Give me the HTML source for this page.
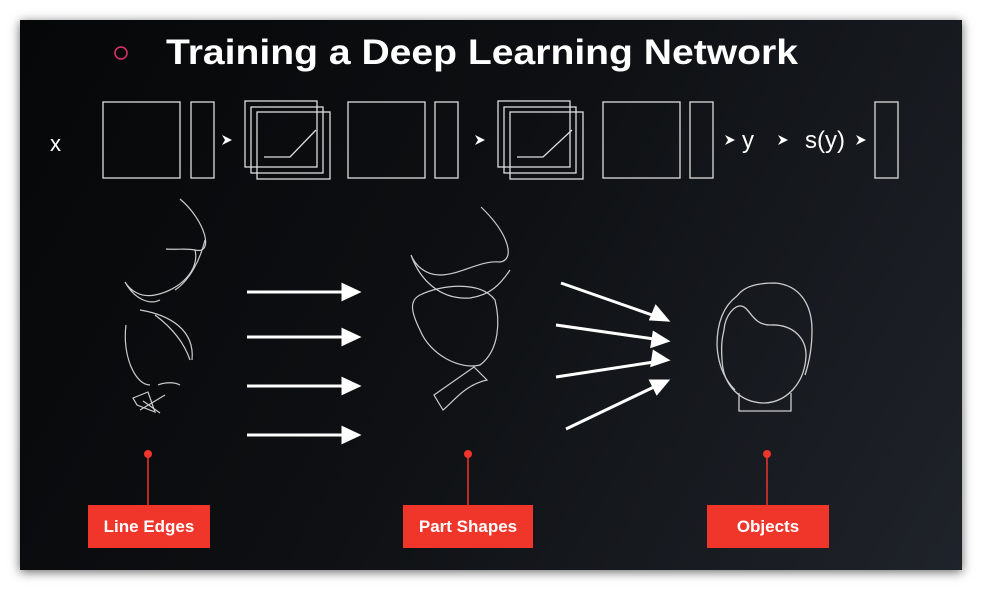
<!DOCTYPE html>
<html><head><style>
html,body{margin:0;padding:0;background:#fff;width:982px;height:590px;overflow:hidden}
#s{position:absolute;left:20px;top:20px;width:942px;height:550px;background:linear-gradient(120deg,#060708 0%,#0d0f12 45%,#1f232a 100%);box-shadow:0 2px 10px rgba(0,0,0,.6)}
svg{position:absolute;left:0;top:0}
text{font-family:"Liberation Sans",sans-serif;fill:#fff}
</style></head><body>
<div id="s"></div>
<svg width="982" height="590" viewBox="0 0 982 590">
<circle cx="121" cy="53" r="6" fill="none" stroke="#e0336a" stroke-width="1.5"/>
<text x="166" y="64" font-size="35" font-weight="bold" textLength="632" lengthAdjust="spacingAndGlyphs">Training a Deep Learning Network</text>
<g fill="none" stroke="#ddd" stroke-width="1.3">
<rect x="103" y="102" width="77" height="76"/><rect x="191" y="102" width="23" height="76"/>
<rect x="245" y="101" width="72" height="66"/><rect x="251" y="107" width="72" height="66"/><rect x="257" y="112" width="73" height="67"/>
<polyline points="264,157 290,157 316,130"/>
<rect x="348" y="102" width="77" height="76"/><rect x="435" y="102" width="23" height="76"/>
<rect x="498" y="101" width="72" height="66"/><rect x="504" y="107" width="72" height="66"/><rect x="510" y="112" width="73" height="67"/>
<polyline points="517,157 543,157 572,130"/>
<rect x="603" y="102" width="77" height="76"/><rect x="690" y="102" width="23" height="76"/>
<rect x="875" y="102" width="23" height="76"/>
</g>
<g fill="#fff">
<path d="M222,135 l10,5 l-10,5 l3,-5z"/><path d="M475,135 l10,5 l-10,5 l3,-5z"/>
<path d="M725,135 l10,5 l-10,5 l3,-5z"/><path d="M778,135 l10,5 l-10,5 l3,-5z"/><path d="M856,135 l10,5 l-10,5 l3,-5z"/>
</g>
<text x="50" y="151" font-size="22">x</text>
<text x="742" y="148" font-size="24">y</text>
<text x="805" y="148" font-size="24">s(y)</text>
<g fill="none" stroke="#ccc" stroke-width="1.2">
<path d="M180,199 C205,220 215,255 195,250 C185,248 178,250 166,249"/>
<path d="M195,250 C200,270 180,290 155,295 C140,298 130,290 125,282 C135,300 150,305 160,300"/>
<path d="M205,240 C200,260 190,280 175,290"/>
<path d="M140,310 C170,315 195,330 192,360"/>
<path d="M126,325 C122,355 135,385 150,385"/>
<path d="M155,315 C175,330 185,345 190,360"/>
<path d="M158,385 C165,382 175,382 180,385"/>
<path d="M133,398 L148,392 L155,412 L137,405 Z M140,410 L165,395 M143,401 L160,413"/>
</g>
<g stroke="#fff" stroke-width="3" fill="#fff">
<line x1="247" y1="292" x2="345" y2="292"/><path d="M358,292 l-15,-7 v14z"/>
<line x1="247" y1="337" x2="345" y2="337"/><path d="M358,337 l-15,-7 v14z"/>
<line x1="247" y1="386" x2="345" y2="386"/><path d="M358,386 l-15,-7 v14z"/>
<line x1="247" y1="435" x2="345" y2="435"/><path d="M358,435 l-15,-7 v14z"/>
</g>
<g fill="none" stroke="#ccc" stroke-width="1.2">
<path d="M481,207 C510,235 515,260 500,262 C480,260 460,275 440,275 C425,275 415,265 411,255 C420,280 440,300 470,298 C490,295 500,285 510,270"/>
<path d="M420,295 C440,285 480,280 495,300 C500,320 500,350 480,365 C460,370 430,355 420,330 C410,310 410,300 420,295Z"/>
<path d="M434,395 L474,367 L487,380 C465,385 455,400 443,410 Z"/>
</g>
<g stroke="#fff" stroke-width="3" fill="#fff">
<line x1="561" y1="283" x2="655" y2="316"/><path d="M667,320 l-16,-1 l5,-12z"/>
<line x1="556" y1="325" x2="654" y2="339"/><path d="M667,341 l-15,5 l2,-13z"/>
<line x1="556" y1="377" x2="654" y2="362"/><path d="M667,360 l-13,-8 l-2,13z"/>
<line x1="566" y1="429" x2="656" y2="386"/><path d="M667,381 l-16,0 l6,12z"/>
</g>
<g fill="none" stroke="#ccc" stroke-width="1.3">
<path d="M739,393 V411 H791 V393"/>
<path d="M737,296 C745,285 760,283 775,283 C800,285 812,305 812,330 C812,345 810,360 805,375"/>
<path d="M737,296 C725,305 717,320 717,345 C718,365 725,380 735,390"/>
<path d="M724,330 C725,315 735,305 741,306 C750,307 752,325 770,325 C795,324 806,340 806,355 C805,385 785,402 765,403 C740,403 723,385 722,360 C721,345 722,338 724,330Z"/>
</g>
<g fill="#f0352a"><circle cx="148" cy="454" r="4"/><circle cx="468" cy="454" r="4"/><circle cx="767" cy="454" r="4"/></g>
<g stroke="#f0352a" stroke-width="1.5"><line x1="148" y1="454" x2="148" y2="506"/><line x1="468" y1="454" x2="468" y2="506"/><line x1="767" y1="454" x2="767" y2="506"/></g>
<g fill="#f0352a"><rect x="88" y="505" width="122" height="43"/><rect x="403" y="505" width="130" height="43"/><rect x="707" y="505" width="122" height="43"/></g>
<g font-size="17" font-weight="bold" text-anchor="middle"><text x="149" y="532">Line Edges</text><text x="468" y="532">Part Shapes</text><text x="768" y="532">Objects</text></g>
</svg>
</body></html>
